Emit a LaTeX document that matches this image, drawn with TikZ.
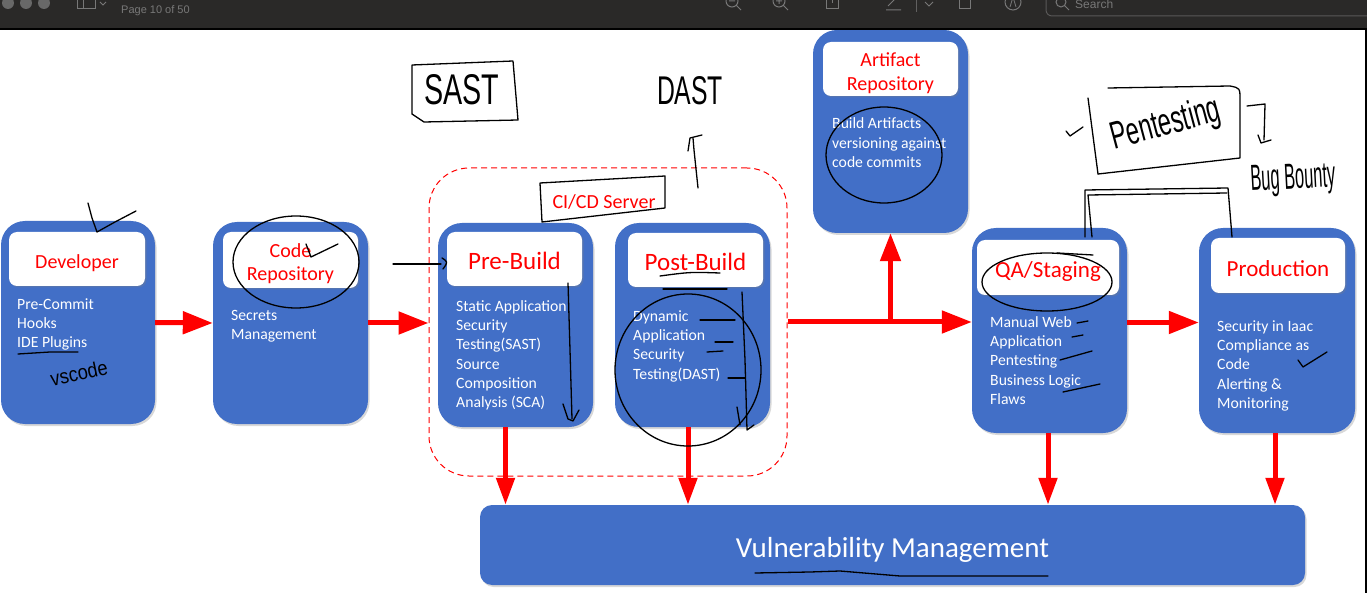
\documentclass[tikz,border=0pt]{standalone}
\usepackage{fontspec}
\setmainfont{Carlito}
\newfontfamily\handfont{Liberation Sans}
\newfontfamily\uifont{Liberation Sans}
\usetikzlibrary{arrows.meta,shadows}
\definecolor{boxblue}{RGB}{66,111,199}
\definecolor{barcol}{RGB}{42,41,40}
\definecolor{uigray}{RGB}{120,120,120}
\definecolor{hred}{RGB}{255,0,0}
\tikzset{
  bluebox/.style={fill=boxblue, rounded corners=24pt, inner sep=0pt, drop shadow={opacity=0.3, shadow xshift=1.5pt, shadow yshift=-2pt}},
  hdr/.style={fill=white, rounded corners=8pt, inner sep=0pt, drop shadow={opacity=0.3, shadow xshift=1.5pt, shadow yshift=-1.5pt}},
  hdrtxt/.style={inner sep=0pt, text=hred, align=center, font=\fontsize{20}{23.5}\selectfont},
  bodytxt/.style={anchor=north west, inner sep=0pt, align=left, text=white, font=\fontsize{15.7}{19.3}\selectfont},
  redarrow/.style={draw=hred, line width=5pt, -{Triangle[length=30pt,width=22pt]}},
  downarrow/.style={draw=hred, line width=5pt, -{Triangle[length=27pt,width=18pt]}},
  hand/.style={draw=black, line width=1.3pt, line cap=round, line join=round},
  handtxt/.style={inner sep=0pt, font=\handfont, text=black},
}
\begin{document}
\begin{tikzpicture}[x=1pt,y=-1pt]
\useasboundingbox (0,0) rectangle (1367,593);
\fill[white] (0,0) rectangle (1367,593);

% CI/CD group
\node[draw=hred, dash pattern=on 6pt off 4pt, line width=1pt, rounded corners=40pt, minimum width=358, minimum height=308, inner sep=0pt] (cicd) at (608,322) {};
\node[text=hred, font=\fontsize{20}{24}\selectfont, inner sep=0pt] (cicdt) at (604,202) {CI/CD Server};

% Developer
\node[bluebox, minimum width=154, minimum height=203] (dev) at (78,322.5) {};
\node[hdr, minimum width=136, minimum height=54] (devh) at (77,259) {};
\node[hdrtxt] (devt) at ([yshift=-4pt]devh.center) {Developer};
\node[bodytxt] (devb) at (17,295.5) {\strut Pre-Commit\\Hooks\\IDE Plugins};

% Code repository
\node[bluebox, minimum width=155, minimum height=202] (code) at (290.5,323) {};
\node[hdr, minimum width=135, minimum height=56] (codeh) at (290.5,260) {};
\node[hdrtxt] (codet) at ([yshift=-3.5pt]codeh.center) {Code\\Repository};
\node[bodytxt] (codeb) at (231,306.5) {\strut Secrets\\Management};

% Pre-Build
\node[bluebox, minimum width=155, minimum height=204] (pre) at (515.5,325) {};
\node[hdr, minimum width=135, minimum height=54] (preh) at (514.5,259) {};
\node[hdrtxt, font=\fontsize{25}{30}\selectfont] (pret) at ([yshift=-2pt]preh.center) {Pre-Build};
\node[bodytxt] (preb) at (456,297.5) {\strut Static Application\\Security\\Testing(SAST)\\Source\\Composition\\Analysis (SCA)};

% Post-Build
\node[bluebox, minimum width=155, minimum height=204] (post) at (692.5,325) {};
\node[hdr, minimum width=135, minimum height=54] (posth) at (695.5,260) {};
\node[hdrtxt, font=\fontsize{25}{30}\selectfont] (postt) at ([yshift=-2pt]posth.center) {Post-Build};
\node[bodytxt] (postb) at (633,307.5) {\strut Dynamic\\Application\\Security\\Testing(DAST)};

% Artifact repository
\node[bluebox, minimum width=155, minimum height=203] (art) at (890.5,131.5) {};
\node[hdr, minimum width=135, minimum height=54] (arth) at (890.5,69) {};
\node[hdrtxt] (artt) at ([yshift=-4pt]arth.center) {Artifact\\Repository};
\node[bodytxt] (artb) at (832,115) {\strut Build Artifacts\\versioning against\\code commits};

% QA
\node[bluebox, minimum width=155, minimum height=205] (qa) at (1049.5,330.5) {};
\node[hdr, minimum width=142, minimum height=55] (qah) at (1048,267.5) {};
\node[hdrtxt, font=\fontsize{23}{27}\selectfont] (qat) at ([yshift=-4pt]qah.center) {QA/Staging};
\node[bodytxt] (qab) at (990,313.5) {\strut Manual Web\\Application\\Pentesting\\Business Logic\\Flaws};

% Production
\node[bluebox, minimum width=156, minimum height=205] (prod) at (1277,330.5) {};
\node[hdr, minimum width=134, minimum height=55] (prodh) at (1278,265.5) {};
\node[hdrtxt, font=\fontsize{23}{27}\selectfont] (prodt) at ([yshift=-3pt]prodh.center) {Production};
\node[bodytxt] (prodb) at (1217,317.5) {\strut Security in Iaac\\Compliance as\\Code\\Alerting \&\\Monitoring};

% Vulnerability management
\node[bluebox, rounded corners=12pt, minimum width=825, minimum height=80] (vm) at (892.5,545) {};
\node[inner sep=0pt, text=white, font=\fontsize{29}{34}\selectfont] (vmt) at (892.5,550) {Vulnerability Management};

% arrows
\draw[redarrow] (dev.east) -- (code.west);
\draw[redarrow] (code.east) -- (code.east -| cicd.west);
\draw[redarrow] (cicd.east) -- (cicd.east -| qa.west);
\draw[draw=hred, line width=5pt, -{Triangle[length=28pt,width=20pt]}] (art.south |- cicd.east) -- (art.south);
\draw[redarrow] (qa.east |- dev.east) -- (prod.west |- dev.east);
\draw[downarrow] ([xshift=-10pt]pre.south) -- ([xshift=-10pt]pre.south |- vm.north);
\draw[downarrow] ([xshift=-4.5pt]post.south) -- ([xshift=-4.5pt]post.south |- vm.north);
\draw[downarrow] ([xshift=-1.5pt]qa.south) -- ([xshift=-1.5pt]qa.south |- vm.north);
\draw[downarrow] ([xshift=-2pt]prod.south) -- ([xshift=-2pt]prod.south |- vm.north);

% ---------- handwritten annotations ----------
% SAST
\draw[hand] (412,65) -- (513,61) -- (518,120) -- (424,122) -- (412,114) -- cycle;
\node[handtxt] (sast) at (462,90) {\resizebox{75pt}{30pt}{SAST}};
% DAST
\node[handtxt] (dast) at (690,91) {\resizebox{66pt}{28pt}{DAST}};
\draw[hand] (698,188) -- (694,150) -- (693,138);
\draw[hand] (688,151) -- (690,138) -- (702,135);
% CI/CD label box
\draw[hand] (540,183) -- (665,176) -- (665,208) -- (542,222) -- cycle;
% Developer
\draw[hand] (88,203) -- (92,218) -- (97,232) -- (115,222) -- (136,211);
\draw[hand] (18,354) -- (50,352) -- (78,352);
\node[handtxt, rotate=12] (vsc) at (79,373) {\resizebox{58pt}{15pt}{vscode}};
% Code repository
\draw[hand] (296,262) ellipse [x radius=63, y radius=46];
\draw[hand] (306,244) -- (311,257) -- (338,244);
% Pre-Build
\draw[hand] (393,264) -- (441,264);
\draw[hand] (442,258) .. controls (448,262) .. (443,269);
\draw[hand] (568,283) -- (570,350) -- (572,419);
\draw[hand] (563,404) -- (568,419) -- (573,421) -- (579,410);
% Post-Build
\draw[hand] (660,276) .. controls (690,272) .. (720,273);
\draw[hand] (663,289) -- (727,289);
\draw[hand] (742,292) -- (745,360) -- (747,430) -- (754,425);
\draw[hand] (737,407) -- (740,425);
\draw[hand] (688,370) ellipse [x radius=73, y radius=76];
\draw[hand] (700,320) -- (735,320);
\draw[hand] (715,342) -- (733,342);
\draw[hand] (707,352) -- (723,351);
\draw[hand] (728,378) -- (745,378);
% Artifact
\draw[hand] (884,155) ellipse [x radius=58, y radius=48];
% QA
\draw[hand] (1047,282) ellipse [x radius=65, y radius=29];
\draw[hand] (1057,253) -- (1093,255);
\draw[hand] (1077,323) -- (1088,321);
\draw[hand] (1072,337) -- (1083,335);
\draw[hand] (1060,360) -- (1092,351);
\draw[hand] (1063,392) -- (1100,384);
% Pentesting
\draw[hand] (1108,88) -- (1230,86) .. controls (1240,88) .. (1240,100) -- (1240,158) -- (1098,174);
\draw[hand] (1088,98) -- (1098,174);
\draw[hand] (1066,131) -- (1070,136) -- (1083,127);
\node[handtxt, rotate=15] (pent) at (1166,125) {\resizebox{112pt}{28pt}{Pentesting}};
\draw[hand] (1247,106) -- (1265,104) -- (1264,140);
\draw[hand] (1258,135) -- (1261,143) -- (1271,140);
\node[handtxt, rotate=3] (bug) at (1293,180) {\resizebox{85pt}{25pt}{Bug Bounty}};
\draw[hand] (1085,237) -- (1085,190) -- (1228,188) -- (1232,237);
\draw[hand] (1092,237) -- (1088,195) -- (1227,193);
% Production
\draw[hand] (1298,360) -- (1303,367) -- (1327,352);
% VM underline
\draw[hand] (755,573) -- (810,572) -- (840,571) .. controls (870,573) .. (900,576) -- (1048,576);

% ---------- viewer toolbar ----------
\fill[barcol] (0,0) rectangle (1367,28);
\fill[black] (0,28) rectangle (1367,30);
\draw[black, line width=1.5pt] (1366,30) -- (1366,593);
\begin{scope}
\clip (0,0) rectangle (1367,28);
\fill[uigray!80!barcol] (8,3) circle (6);
\fill[uigray!80!barcol] (26,3) circle (6);
\fill[uigray!80!barcol] (44,3) circle (6);
\draw[uigray, line width=1pt] (77,-4) rectangle (95,9);
\draw[uigray, line width=1pt] (83,-4) -- (83,9);
\draw[uigray, line width=1pt] (100,2) -- (103,5) -- (106,2);
\node[anchor=west, text=uigray, font=\uifont\fontsize{11}{13}\selectfont, inner sep=0pt] (pg) at (121,11) {Page 10 of 50};
\draw[uigray, line width=1pt] (732,1) circle (6) (736,5) -- (741,10) (729,1) -- (735,1);
\draw[uigray, line width=1pt] (779,1) circle (6) (783,5) -- (788,10) (776,1) -- (782,1) (779,-2) -- (779,4);
\draw[uigray, line width=1pt] (826,-4) rectangle (838,9) (832,-6) -- (832,3);
\draw[uigray, line width=1pt] (888,6) -- (898,-4) (886,10) -- (901,10);
\draw[uigray!70!barcol, line width=0.8pt] (916,-5) -- (916,12);
\draw[uigray, line width=1pt] (925,2) -- (929,6) -- (933,2);
\draw[uigray, line width=1pt] (959,-5) rectangle (970,9);
\draw[uigray, line width=1pt] (1013,2) circle (8);
\draw[uigray, line width=0.8pt] (1010,7) -- (1013,-3) -- (1016,7);
\draw[uigray!60!barcol, line width=1pt, rounded corners=6pt] (1046,-10) rectangle (1375,16);
\draw[uigray, line width=1pt] (1061,2) circle (5) (1065,6) -- (1069,10);
\node[anchor=west, text=uigray, font=\uifont\fontsize{12}{14}\selectfont, inner sep=0pt] (srch) at (1075,4) {Search};
\end{scope}
\end{tikzpicture}
\end{document}
